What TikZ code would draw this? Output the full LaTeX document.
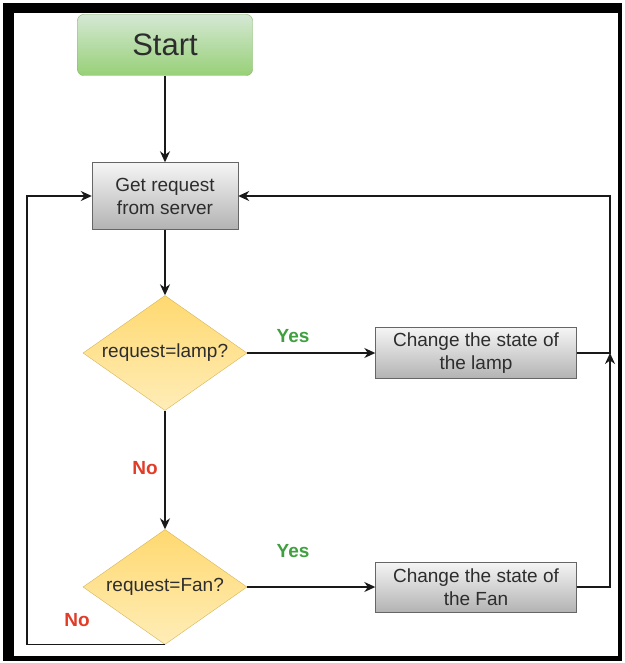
\documentclass[tikz,border=0pt]{standalone}
\usepackage{fontspec}
\setmainfont{Liberation Sans}
\usetikzlibrary{positioning, arrows.meta, shapes.geometric, calc}
\definecolor{StartTop}{HTML}{D5E8D4}
\definecolor{StartBottom}{HTML}{97D077}
\definecolor{StartLine}{HTML}{82B366}
\definecolor{BoxTop}{HTML}{F5F5F5}
\definecolor{BoxBottom}{HTML}{B3B3B3}
\definecolor{BoxLine}{HTML}{666666}
\definecolor{DecisionTop}{HTML}{FFD970}
\definecolor{DecisionBottom}{HTML}{FFEDB8}
\definecolor{DecisionLine}{HTML}{D6B656}
\definecolor{YesColor}{RGB}{64,160,64}
\definecolor{NoColor}{RGB}{225,60,40}
\definecolor{TextColor}{RGB}{45,45,45}
\newcommand{\yeslabel}[1]{\textcolor{YesColor}{\textbf{#1}}}
\newcommand{\nolabel}[1]{\textcolor{NoColor}{\textbf{#1}}}
\tikzstyle{arrow} = [line width=1.5pt, black!90, -{Stealth[length=11pt,width=10pt]}]
\tikzstyle{startbox} = [rectangle, rounded corners=6pt, minimum width=175pt, minimum height=61pt, draw=StartLine, top color=StartTop, bottom color=StartBottom, text=TextColor, font=\fontsize{31}{35}\selectfont]
\tikzstyle{process} = [rectangle, draw=BoxLine, top color=BoxTop, bottom color=BoxBottom, align=center, text=TextColor, font=\fontsize{19}{23}\selectfont]
\tikzstyle{decision} = [diamond, aspect=1.43, inner sep=0pt, minimum width=164pt, minimum height=115pt, draw=DecisionLine, top color=DecisionTop, bottom color=DecisionBottom, text=TextColor, font=\fontsize{19}{23}\selectfont]
\tikzstyle{answer} = [font=\fontsize{19}{23}\selectfont]

\begin{document}
\begin{tikzpicture}[x=1pt, y=-1pt]
            % Frame round the chart
            \useasboundingbox (0,0) rectangle (624,663);
            \fill[black] (3,3) rectangle (622,661);
            \fill[white] (14,13) rectangle (618,656);
            % Steps and decisions
            \node[startbox] (start) at (165,45) {Start};
            \node[process, minimum width=146pt, minimum height=67pt] (get) at (165,196) {Get request\\from server};
            \node[decision] (lampq) at (165,353) {request=lamp?};
            \node[decision] (fanq) at (165,587) {request=Fan?};
            \node[process, minimum width=201pt, minimum height=51pt] (lampbox) at (476,353) {Change the state of\\the lamp};
            \node[process, minimum width=201pt, minimum height=50pt] (fanbox) at (476,587) {Change the state of\\the Fan};
            \coordinate (rightrail) at (610,196);
            \coordinate (join) at (610,353);
            \coordinate (leftrail) at (27,196);
            % Connectors
            \draw[arrow] (start) -- (get);
            \draw[arrow] (get) -- (lampq);
            \draw[arrow] (lampq) -- (lampbox);
            \draw[arrow] (lampq) -- (fanq);
            \draw[arrow] (fanq) -- (fanbox);
            \draw[arrow] (lampbox.east) -| (rightrail) -- (get.east);
            \draw[arrow] (fanbox.east) -| (join);
            \draw[arrow] (fanq.south) -| (leftrail) -- (get.west);
            % Answers
            \node[answer] at (293,336) {\yeslabel{Yes}};
            \node[answer] at (293,551) {\yeslabel{Yes}};
            \node[answer] at (145,468) {\nolabel{No}};
            \node[answer] at (77,620) {\nolabel{No}};
        \end{tikzpicture}
\end{document}
